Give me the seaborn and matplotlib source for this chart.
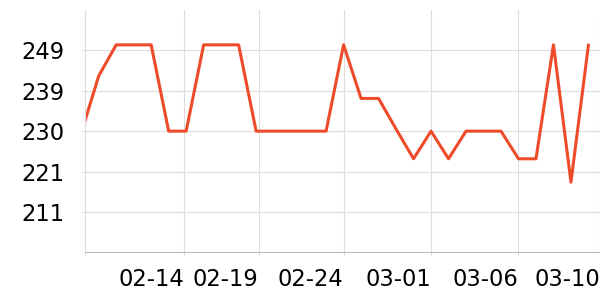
import matplotlib
matplotlib.use("Agg")
import matplotlib.pyplot as plt
import seaborn as sns
import pandas as pd
import numpy as np

# ---- data ----
dates = ['02-09', '02-10', '02-11', '02-12', '02-13', '02-14', '02-15', '02-16',
         '02-17', '02-18', '02-19', '02-20', '02-21', '02-22', '02-23', '02-24',
         '02-25', '02-26', '02-27', '02-28', '03-01', '03-02', '03-03', '03-04',
         '03-05', '03-06', '03-07', '03-08', '03-09', '03-10']
values = [229.5, 243, 250.3, 250.3, 250.3, 230, 230, 250.3, 250.3, 250.3,
          230, 230, 230, 230, 230, 250.3, 237.7, 237.7, 230.5, 223.5,
          230, 223.5, 230, 230, 230, 223.5, 223.5, 250.3, 218, 250.3]
x_tick_labels = ['02-14', '02-19', '02-24', '03-01', '03-06', '03-10']
y_tick_labels = ['211', '221', '230', '239', '249']

# ---- layout / style ----
x_tick_pos = [5.89, 10.15, 15.0, 20.0, 25.0, 29.66]
y_tick_pos = [211, 220.5, 230, 239.5, 249]
x_lim = (0.234, 29.66)
y_lim = (201.5, 258.5)
line_color = '#EE4B2B'
grid_color = '#DDDDDD'
axis_color = '#BBBBBB'

sns.set_theme(style='white')
plt.rcParams['font.family'] = ['DejaVu Sans']

day0 = pd.to_datetime('2023-' + dates[0])
df = pd.DataFrame({
    'x': [(pd.to_datetime('2023-' + d) - day0).days for d in dates],
    'value': values,
})

fig = plt.figure(figsize=(6, 3), dpi=100)
ax = fig.add_axes([85.3 / 600, 1 - 252.3 / 300, (600 - 85.3) / 600, (252.3 - 10) / 300])

sns.lineplot(data=df, x='x', y='value', ax=ax, color=line_color, linewidth=2.2,
             clip_on=True)

ax.set_xlim(*x_lim)
ax.set_ylim(*y_lim)
ax.set_xticks([x_lim[0]] + x_tick_pos)
ax.set_xticklabels([''] + x_tick_labels, fontsize=16.3, color='#000000', ha='right')
ax.set_yticks(y_tick_pos)
ax.set_yticklabels(y_tick_labels, fontsize=16.3, color='#000000')
ax.set_xlabel('')
ax.set_ylabel('')

ax.grid(True, color=grid_color, linewidth=0.8)
ax.set_axisbelow(True)
for s in ['top', 'right']:
    ax.spines[s].set_visible(False)
ax.spines['left'].set_color(grid_color)
ax.spines['left'].set_linewidth(0.8)
ax.spines['bottom'].set_color(axis_color)
ax.spines['bottom'].set_linewidth(0.8)
ax.tick_params(axis='x', length=2.5, width=0.8, color=grid_color, pad=9, bottom=True)
ax.tick_params(axis='y', length=2.5, width=0.8, color=grid_color, pad=12.5, left=True)

fig.savefig('out.png', dpi=100)
